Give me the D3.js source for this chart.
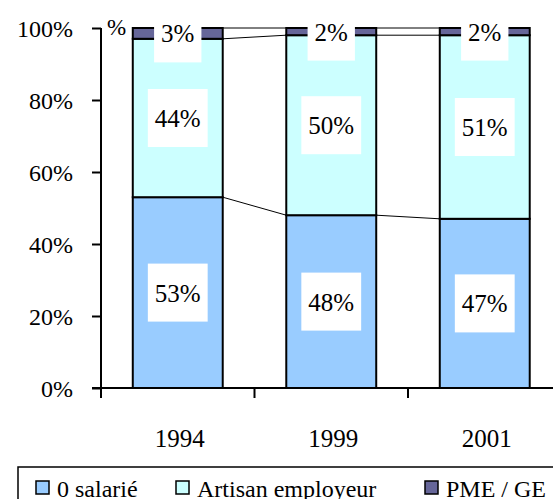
<!DOCTYPE html>
<html>
<head>
<meta charset="utf-8">
<script src="https://cdn.jsdelivr.net/npm/d3@7"></script>
</head>
<body style="margin:0;background:#fff">
<svg width="553" height="499" style="display:block"></svg>
<script>
"use strict";

var years = ["1994", "1999", "2001"];
var seriesNames = ["0 salarié", "Artisan employeur", "PME / GE"];
var zeroSalarie = [53, 48, 47];
var artisanEmployeur = [44, 50, 51];
var pmeGe = [3, 2, 2];
var yTicks = [0, 20, 40, 60, 80, 100];
var colors = ["#99ccff", "#ccffff", "#666699"];
var FONT = "'Liberation Serif', 'Times New Roman', Times, serif";

var svg = d3.select("svg");

var xScale = d3.scaleBand().domain(years).range([101, 561.5]).paddingInner(0.414).paddingOuter(0.207);
var yScale = d3.scaleLinear().domain([0, 100]).range([388, 28]);

var rows = years.map(function(y, i){
  return {year: y, s0: zeroSalarie[i], s1: artisanEmployeur[i], s2: pmeGe[i]};
});
var stacked = d3.stack().keys(["s0", "s1", "s2"])(rows);

// series lines between bars
stacked.forEach(function(layer){
  for (var i = 0; i < years.length - 1; i++) {
    svg.append("line")
      .attr("x1", xScale(years[i]) + xScale.bandwidth())
      .attr("y1", yScale(layer[i][1]))
      .attr("x2", xScale(years[i + 1]))
      .attr("y2", yScale(layer[i + 1][1]))
      .attr("stroke", "#000")
      .attr("stroke-width", 1);
  }
});

// bars
stacked.forEach(function(layer, k){
  svg.selectAll("rect.s" + k)
    .data(layer)
    .enter()
    .append("rect")
    .attr("class", "s" + k)
    .attr("x", function(d, i){ return xScale(years[i]); })
    .attr("y", function(d){ return yScale(d[1]); })
    .attr("width", xScale.bandwidth())
    .attr("height", function(d){ return yScale(d[0]) - yScale(d[1]); })
    .attr("fill", colors[k])
    .attr("stroke", "#000")
    .attr("stroke-width", 2);
});

// data labels in white boxes
stacked.forEach(function(layer){
  layer.forEach(function(d, i){
    var v = d[1] - d[0];
    var cx = xScale(years[i]) + xScale.bandwidth() / 2;
    var cy = (yScale(d[0]) + yScale(d[1])) / 2;
    var g = svg.append("g");
    var t = g.append("text")
      .attr("x", cx)
      .attr("y", cy + 9)
      .attr("text-anchor", "middle")
      .style("font-family", FONT)
      .style("font-size", "25px")
      .text(v + "%");
    var w = t.node().getComputedTextLength() + 14;
    g.insert("rect", "text")
      .attr("x", cx - w / 2)
      .attr("y", cy - 29)
      .attr("width", w)
      .attr("height", 58)
      .attr("fill", "#fff");
  });
});

// y axis
var yAxis = svg.append("g")
  .attr("transform", "translate(101,0)")
  .call(d3.axisLeft(yScale).tickValues(yTicks).tickSize(9).tickPadding(19)
    .tickFormat(function(d){ return d + "%"; }));
yAxis.select(".domain").attr("stroke", "#000").attr("stroke-width", 2).attr("d", "M0,28V388");
yAxis.selectAll(".tick line").attr("stroke", "#000").attr("stroke-width", 2);
yAxis.selectAll(".tick text").attr("fill", "#000").attr("dy", "0.34em")
  .style("font-family", FONT).style("font-size", "24px");

// x axis
var xTickPos = [0, 1, 2].map(function(i){ return xScale(years[i]) - xScale.step() * xScale.paddingOuter(); });
var xAxis = svg.append("g").attr("transform", "translate(0,388)");
xAxis.append("line").attr("x1", 92).attr("x2", 553).attr("y1", 0).attr("y2", 0)
  .attr("stroke", "#000").attr("stroke-width", 2);
xAxis.selectAll("line.tk").data(xTickPos).enter().append("line")
  .attr("class", "tk")
  .attr("x1", function(d){ return d; }).attr("x2", function(d){ return d; })
  .attr("y1", 0).attr("y2", 10)
  .attr("stroke", "#000").attr("stroke-width", 2);
xAxis.selectAll("text").data(years).enter().append("text")
  .attr("x", function(d){ return xScale(d) + xScale.bandwidth() / 2 + 2; })
  .attr("y", 59)
  .attr("text-anchor", "middle")
  .style("font-family", FONT).style("font-size", "25px")
  .text(function(d){ return d; });

// unit label
svg.append("text").attr("x", 107).attr("y", 35)
  .style("font-family", FONT).style("font-size", "23px").text("%");

// legend
svg.append("rect").attr("x", 18).attr("y", 467).attr("width", 560).attr("height", 60)
  .attr("fill", "#fff").attr("stroke", "#000").attr("stroke-width", 1.5);
var legendX = [36, 176, 425];
var legend = svg.selectAll("g.leg").data(seriesNames).enter().append("g")
  .attr("class", "leg")
  .attr("transform", function(d, i){ return "translate(" + legendX[i] + ",481)"; });
legend.append("rect").attr("width", 13).attr("height", 13)
  .attr("fill", function(d, i){ return colors[i]; })
  .attr("stroke", "#000").attr("stroke-width", 1.5);
legend.append("text").attr("x", 21).attr("y", 16)
  .style("font-family", FONT).style("font-size", "24px")
  .text(function(d){ return d; });
</script>
</body>
</html>
